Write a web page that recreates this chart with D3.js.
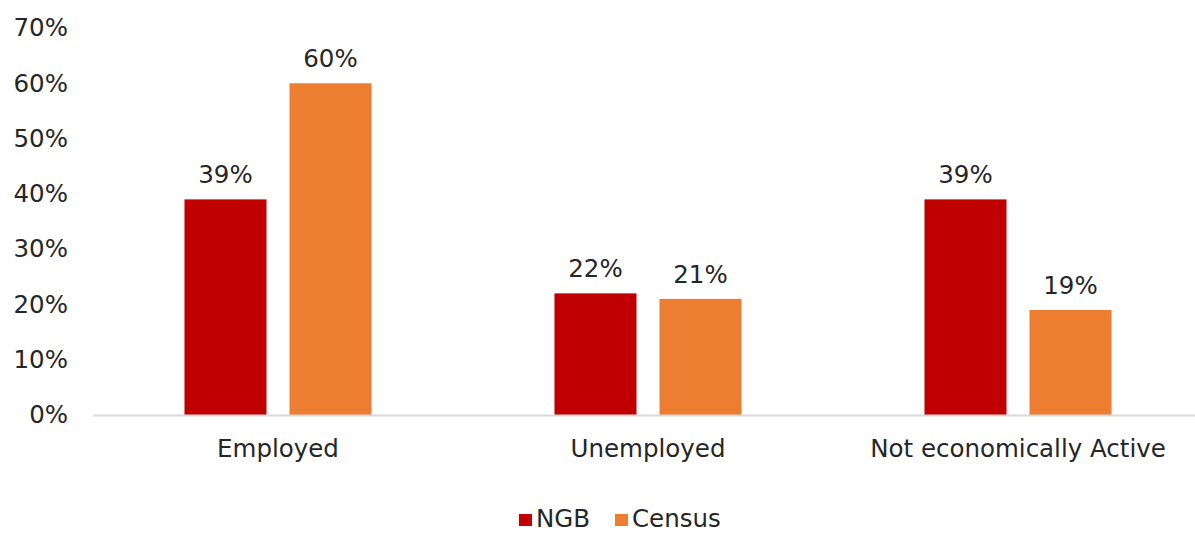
<!DOCTYPE html>
<html>
<head>
<meta charset="utf-8">
<script src="https://cdn.jsdelivr.net/npm/d3@7"></script>
<style>
  html, body { margin: 0; padding: 0; background: #fff; }
  svg { display: block; font-family: "DejaVu Sans", Verdana, sans-serif; }
</style>
</head>
<body>
<svg id="chart" width="1195" height="533"></svg>
<script>
const categories = ["Employed", "Unemployed", "Not economically Active"];
const seriesNames = ["NGB", "Census"];
const ngbValues = [0.39, 0.22, 0.39];
const censusValues = [0.60, 0.21, 0.19];
const yTicks = [0, 0.1, 0.2, 0.3, 0.4, 0.5, 0.6, 0.7];
const colors = { NGB: "#C00000", Census: "#ED7D31" };

const rows = categories.map((c, i) => ({
  category: c,
  values: [
    { series: "NGB", value: ngbValues[i] },
    { series: "Census", value: censusValues[i] }
  ]
}));

const svg = d3.select("#chart");
const plotLeft = 93, plotRight = 1203, baseY = 415, topY = 28;
const fontSize = 24.5;
const textColor = "#262626";

const x0 = d3.scaleBand().domain(categories).range([plotLeft, plotRight]).padding(0);
const x1 = d3.scaleBand().domain(seriesNames).range([0, x0.bandwidth()])
  .paddingInner(23 / 105).paddingOuter(0.871);
const y = d3.scaleLinear().domain([0, 0.7]).range([baseY, topY]);

const fmt = d3.format(".0%");

// y axis labels (no line, no ticks)
const yAxis = d3.axisLeft(y).tickValues(yTicks).tickFormat(fmt).tickSize(0).tickPadding(0);
const yg = svg.append("g").attr("transform", "translate(68,0)").call(yAxis);
yg.select(".domain").remove();
yg.selectAll("text").attr("font-size", fontSize).attr("fill", textColor)
  .attr("font-family", "DejaVu Sans, Verdana, sans-serif");

// bars
const groups = svg.append("g").selectAll("g").data(rows).join("g")
  .attr("transform", d => `translate(${x0(d.category)},0)`);

groups.selectAll("rect").data(d => d.values).join("rect")
  .attr("x", d => x1(d.series))
  .attr("width", x1.bandwidth())
  .attr("y", d => y(d.value))
  .attr("height", d => y(0) - y(d.value))
  .attr("fill", d => colors[d.series]);

groups.selectAll("text.val").data(d => d.values).join("text")
  .attr("class", "val")
  .attr("x", d => x1(d.series) + x1.bandwidth() / 2)
  .attr("y", d => y(d.value) - 16)
  .attr("text-anchor", "middle")
  .attr("font-size", fontSize)
  .attr("fill", textColor)
  .text(d => fmt(d.value));

// x axis baseline and category labels
const xAxis = d3.axisBottom(x0).tickSize(0).tickPadding(25);
const xg = svg.append("g").attr("transform", `translate(0,${baseY})`).call(xAxis);
xg.select(".domain").attr("stroke", "#d9d9d9").attr("stroke-width", 2);
xg.selectAll("text").attr("font-size", fontSize).attr("fill", textColor)
  .attr("font-family", "DejaVu Sans, Verdana, sans-serif");

// legend
const legend = svg.append("g");
const legendItems = [
  { name: "NGB", x: 519 },
  { name: "Census", x: 615 }
];
legendItems.forEach(item => {
  legend.append("rect").attr("x", item.x).attr("y", 514).attr("width", 13).attr("height", 12)
    .attr("fill", colors[item.name]);
  legend.append("text").attr("x", item.x + 17).attr("y", 527)
    .attr("font-size", fontSize).attr("fill", textColor).text(item.name);
});
</script>
</body>
</html>
